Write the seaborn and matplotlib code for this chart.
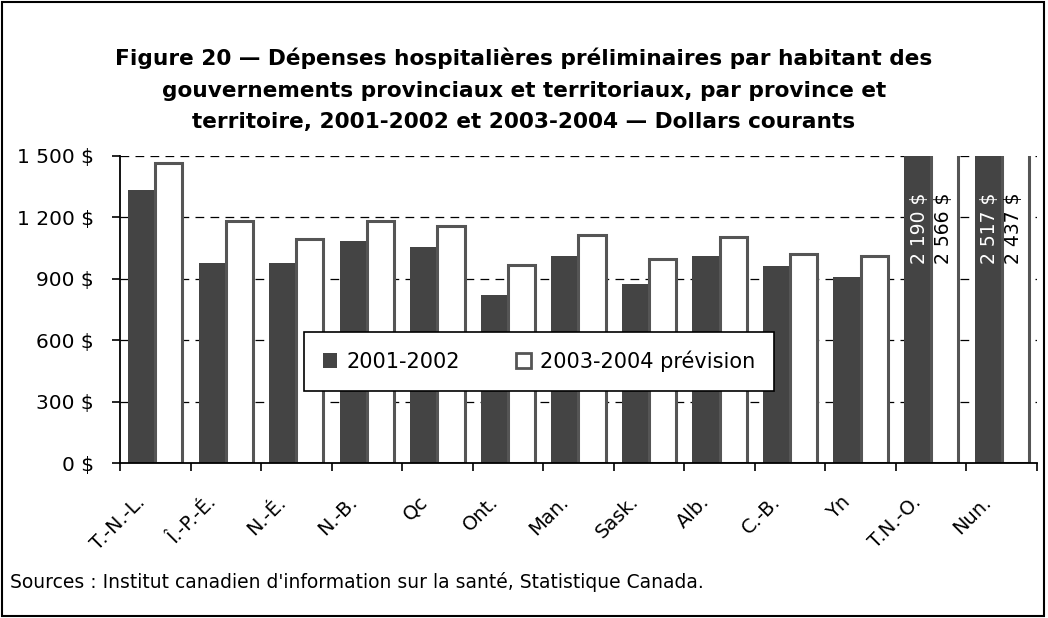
import matplotlib
matplotlib.use("Agg")
import matplotlib.pyplot as plt
import numpy as np
import pandas as pd
import seaborn as sns
from matplotlib.patches import Rectangle
from matplotlib.ticker import FuncFormatter

sns.set_style("white")
plt.rcParams["font.family"] = ["DejaVu Sans"]
plt.rcParams["text.color"] = "black"
plt.rcParams["xtick.color"] = "black"
plt.rcParams["ytick.color"] = "black"

provinces = ["T.-N.-L.", "Î.-P.-É.", "N.-É.", "N.-B.", "Qc", "Ont.", "Man.",
             "Sask.", "Alb.", "C.-B.", "Yn", "T.N.-O.", "Nun."]
periods = ["2001-2002", "2003-2004 prévision"]
val_2001 = [1334, 977, 977, 1084, 1056, 822, 1012, 874, 1012, 962, 908, 2190, 2517]
val_2003 = [1466, 1182, 1096, 1182, 1159, 967, 1114, 999, 1105, 1021, 1011, 2566, 2437]

df = pd.DataFrame({
    "prov": provinces * 2,
    "period": [periods[0]] * len(provinces) + [periods[1]] * len(provinces),
    "val": val_2001 + val_2003,
})

DARK = "#444444"
EDGE = "#555555"


def dollars(v):
    return f"{int(v):,} $".replace(",", " ")


fig = plt.figure(figsize=(10.48, 6.18), dpi=100)
ax = fig.add_axes([0.1145, 0.2508, 0.875, 0.4968])

sns.barplot(data=df, x="prov", y="val", hue="period", palette=[DARK, "white"],
            width=0.77, ax=ax, legend=True, saturation=1)

for bars, ec, lw in zip(ax.containers, [DARK, EDGE], [0, 2.2]):
    for b in bars:
        b.set_edgecolor(ec)
        b.set_linewidth(lw)

ax.set_ylim(0, 1500)
ax.set_xlim(-0.5, len(provinces) - 0.5)
ax.set_yticks(np.arange(0, 1501, 300))
ax.yaxis.set_major_formatter(FuncFormatter(lambda v, p: dollars(v)))
for y in range(300, 1501, 300):
    ax.axhline(y, color="black", lw=0.9, ls=(0, (7, 5)), zorder=0)

# ticks at category boundaries, labels slightly left of the group centers
ax.set_xticks(np.arange(-0.5, len(provinces), 1))
ax.set_xticklabels([])
ax.set_xticks(np.arange(len(provinces)) - 0.28, minor=True)
ax.set_xticklabels(provinces, minor=True, rotation=45, ha="right",
                   rotation_mode="anchor", fontsize=14)
ax.tick_params(axis="x", which="major", length=6, width=1.2, direction="out", bottom=True)
ax.tick_params(axis="x", which="minor", length=0, pad=21)
ax.tick_params(axis="y", length=6, width=1.2, direction="out", left=True, labelsize=14.5, pad=13)
ax.set_xlabel("")
ax.set_ylabel("")
for s in ["top", "right"]:
    ax.spines[s].set_visible(False)
for s in ["left", "bottom"]:
    ax.spines[s].set_color("black")
    ax.spines[s].set_linewidth(1.3)

# labels for the bars that run past the top of the axis
for i in [11, 12]:
    ax.text(i - 0.17, 1148, dollars(val_2001[i]), rotation=90,
            ha="center", va="center", color="white", fontsize=13.5)
    ax.text(i + 0.17, 1148, dollars(val_2003[i]), rotation=90,
            ha="center", va="center", color="black", fontsize=13.5)

handles, labels = ax.get_legend_handles_labels()
leg = ax.legend(handles, labels, ncol=2, loc="center",
                bbox_to_anchor=(0.457, 0.332),
                fontsize=15, frameon=True, fancybox=False, handlelength=0.7,
                handleheight=0.7, handletextpad=0.45, borderaxespad=0, borderpad=0.9,
                columnspacing=2.7)
leg.get_frame().set_edgecolor("black")
leg.get_frame().set_linewidth(1.2)
leg.get_frame().set_alpha(1)
for h, ec, lw in zip(leg.legend_handles, [DARK, EDGE], [0, 2.0]):
    h.set_edgecolor(ec)
    h.set_linewidth(lw)

fig.text(0.5, 0.854, "Figure 20 — Dépenses hospitalières préliminaires par habitant des\n"
         "gouvernements provinciaux et territoriaux, par province et\n"
         "territoire, 2001-2002 et 2003-2004 — Dollars courants",
         ha="center", va="center", fontsize=15.6, fontweight="bold", linespacing=1.72)
fig.text(0.01, 0.058, "Sources : Institut canadien d'information sur la santé, Statistique Canada.",
         ha="left", va="center", fontsize=13.5)

fig.patches.append(Rectangle((0.002, 0.003), 0.994, 0.993, transform=fig.transFigure,
                             fill=False, edgecolor="black", lw=1.5))

fig.savefig("out.png", dpi=100)
